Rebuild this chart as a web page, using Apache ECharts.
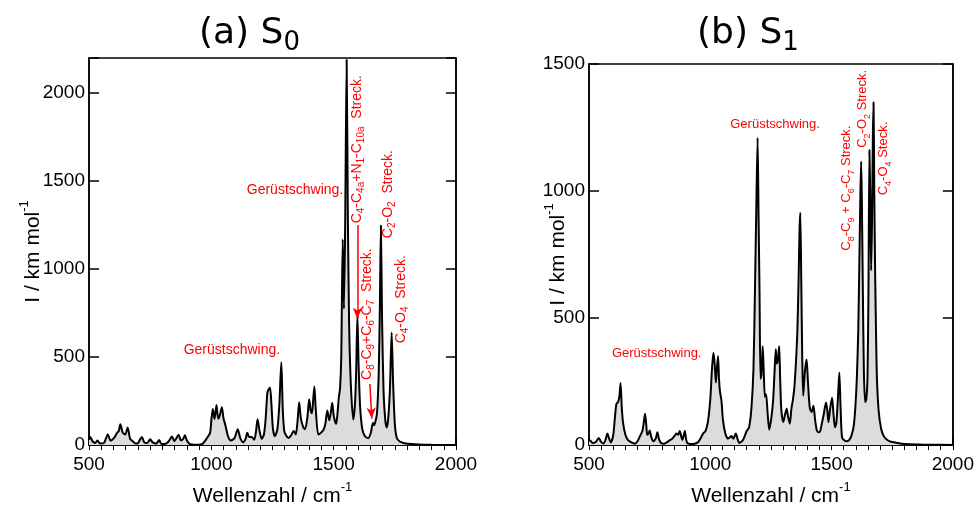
<!DOCTYPE html>
<html><head><meta charset="utf-8">
<script src="https://cdn.jsdelivr.net/npm/echarts@6/dist/echarts.min.js"></script>
<style>html,body{margin:0;padding:0;background:#fff}#c{width:977px;height:512px}</style>
</head><body><div id="c"></div>
<script>
// ---- data (wavenumber cm^-1, intensity km/mol) ----
const xTicks = [500, 1000, 1500, 2000];
const yTicksS0 = [0, 500, 1000, 1500, 2000];
const yTicksS1 = [0, 500, 1000, 1500];
const titles = ['(a) S', '(b) S'];
const titleSubs = ['0', '1'];

const spectrumS0 = [
[500,30],[505,45],[515,20],[525,12],[535,25],[545,8],[560,10],[570,40],[577,61],[588,25],[605,45],[615,70],[622,80],[628,118],[638,70],[648,60],[658,100],[668,35],[680,20],[690,8],[700,10],[708,30],[716,45],[726,15],[738,12],[750,32],[760,15],[775,8],[787,28],[796,5],[810,5],[825,20],[839,48],[849,22],[858,40],[866,58],[876,25],[885,35],[892,55],[900,25],[912,5],[930,2],[950,2],[965,8],[978,30],[985,45],[995,70],[1000,140],[1006,205],[1013,148],[1021,228],[1028,150],[1035,170],[1043,215],[1050,150],[1058,110],[1068,50],[1080,25],[1095,40],[1108,90],[1118,40],[1130,15],[1140,35],[1147,70],[1155,45],[1165,45],[1175,30],[1182,70],[1189,146],[1197,80],[1206,35],[1215,60],[1222,150],[1229,298],[1234,315],[1240,327],[1246,220],[1252,90],[1260,50],[1270,90],[1278,230],[1286,470],[1292,200],[1298,80],[1305,55],[1315,40],[1324,50],[1337,80],[1345,60],[1352,130],[1359,243],[1366,150],[1376,100],[1383,90],[1392,150],[1400,260],[1406,195],[1411,180],[1416,250],[1421,333],[1427,200],[1437,60],[1448,70],[1458,85],[1466,120],[1474,196],[1482,140],[1488,180],[1494,240],[1501,160],[1510,120],[1515,168],[1521,270],[1526,320],[1531,500],[1537,1170],[1542,775],[1547,1250],[1553,2190],[1558,1300],[1563,700],[1570,350],[1580,145],[1587,230],[1592,420],[1597,735],[1602,450],[1608,220],[1617,90],[1628,50],[1641,39],[1652,70],[1657,110],[1661,125],[1665,112],[1670,130],[1677,180],[1684,400],[1689,800],[1693,1248],[1698,700],[1704,300],[1711,140],[1717,100],[1723,150],[1730,320],[1737,640],[1743,350],[1750,120],[1758,40],[1770,20],[1790,10],[1820,5],[1850,3],[1900,1],[2000,0]
];

const spectrumS1 = [
[500,15],[503,19],[515,8],[528,12],[540,28],[550,12],[560,6],[568,20],[576,45],[583,25],[590,10],[600,40],[607,110],[613,162],[620,170],[625,190],[630,244],[635,150],[640,90],[650,40],[660,20],[675,10],[689,5],[700,15],[710,35],[720,55],[726,90],[731,123],[736,80],[740,40],[745,45],[750,57],[757,30],[765,15],[775,25],[782,50],[788,25],[795,10],[808,5],[820,10],[832,18],[843,25],[852,35],[861,45],[868,40],[874,55],[880,35],[885,20],[890,35],[895,55],[900,25],[905,8],[920,4],[935,5],[950,12],[962,30],[970,45],[980,55],[990,90],[1000,180],[1007,300],[1013,363],[1018,320],[1023,246],[1027,300],[1032,350],[1036,260],[1040,210],[1046,175],[1052,100],[1062,45],[1073,25],[1080,30],[1087,35],[1095,25],[1105,45],[1112,25],[1120,8],[1135,20],[1150,55],[1160,70],[1170,150],[1178,300],[1184,600],[1190,950],[1195,1209],[1199,900],[1203,600],[1207,260],[1211,280],[1216,389],[1220,300],[1225,190],[1230,200],[1236,130],[1243,60],[1252,110],[1259,175],[1265,290],[1270,377],[1274,320],[1278,330],[1284,389],[1288,260],[1292,150],[1296,110],[1301,91],[1308,120],[1315,143],[1321,110],[1328,84],[1334,140],[1340,175],[1346,220],[1353,324],[1359,450],[1364,650],[1368,850],[1371,914],[1375,650],[1379,350],[1383,194],[1390,290],[1397,337],[1402,260],[1407,180],[1411,143],[1418,130],[1425,155],[1432,100],[1439,58],[1446,50],[1453,55],[1460,85],[1467,117],[1477,167],[1482,140],[1487,90],[1495,150],[1502,186],[1508,120],[1514,70],[1520,90],[1527,200],[1532,285],[1537,150],[1543,30],[1553,18],[1563,15],[1573,20],[1583,40],[1592,80],[1598,150],[1604,260],[1610,450],[1615,750],[1619,1000],[1622,1116],[1625,950],[1629,600],[1633,300],[1638,169],[1643,180],[1648,260],[1652,600],[1656,1161],[1659,1000],[1663,687],[1667,900],[1670,1200],[1673,1349],[1676,1000],[1680,650],[1684,400],[1687,260],[1694,135],[1704,65],[1715,35],[1730,20],[1745,13],[1763,10],[1790,5],[1820,3],[1860,2],[1900,1],[2000,0]
];

// annotations: [gridIndex, wavenumber, intensity, rich text, rotated]
const annotations = [
  [0, 1084, 538, 'Gerüstschwing.', false],
  [0, 1342, 1450, 'Gerüstschwing.', false],
  [0, 1595, 1260, '{n|C}{s|4}{n|-C}{s|4a}{n|+N}{s|1}{n|-C}{s|10a}{n|  Streck.}', true],
  [0, 1635, 370, '{n|C}{s|8}{n|-C}{s|9}{n|+C}{s|6}{n|-C}{s|7}{n|  Streck.}', true],
  [0, 1721, 1176, '{n|C}{s|2}{n|-O}{s|2}{n|  Streck.}', true],
  [0, 1775, 578, '{n|C}{s|4}{n|-O}{s|4}{n|  Streck.}', true],
  [1, 779, 362, 'Gerüstschwing.', false],
  [1, 1267, 1261, 'Gerüstschwing.', false],
  [1, 1560, 765, '{n|C}{s|8}{n|-C}{s|9}{n| + C}{s|6}{n|-C}{s|7}{n| Streck.}', true],
  [1, 1628, 1170, '{n|C}{s|2}{n|-O}{s|2}{n| Streck.}', true],
  [1, 1713, 983, '{n|C}{s|4}{n|-O}{s|4}{n| Steck.}', true]
];
// arrows in S0 panel: [[x0,y0],[x1,y1]]
const arrowsS0 = [
  [[1597, 1250], [1597, 718]],
  [[1648, 347], [1656, 150]]
];

const chart = echarts.init(document.getElementById('c'), null, {renderer: 'canvas'});
const FONT = 'Liberation Sans, Arial, sans-serif';
const grids = [
  {left: 89, right: 521, top: 58, bottom: 62},
  {left: 589, right: 24, top: 64, bottom: 62}
];
const ymax = [yTicksS0[yTicksS0.length - 1] + 200, yTicksS1[yTicksS1.length - 1]];
const nameRich = {
  n: {fontFamily: FONT, fontSize: 21, color: '#000', lineHeight: 26, verticalAlign: 'bottom'},
  sup: {fontFamily: FONT, fontSize: 13, color: '#000', lineHeight: 26, verticalAlign: 'top'}
};

function xAxisDefs(i) {
  return [{
    type: 'value', gridIndex: i, min: xTicks[0], max: xTicks[xTicks.length - 1], interval: 500,
    name: '{n|Wellenzahl / cm}{sup|-1}', nameLocation: 'middle', nameGap: 36, nameMoveOverlap: false,
    nameTextStyle: {rich: nameRich},
    axisLine: {show: true, lineStyle: {color: '#000', width: 1.5}},
    axisTick: {show: true, inside: true, length: 9, lineStyle: {color: '#000', width: 1.5}},
    axisLabel: {fontFamily: FONT, fontSize: 19, color: '#000', margin: 10, formatter: v => String(v)},
    splitLine: {show: false}
  }, {
    // minor ticks every 50 cm^-1
    type: 'value', gridIndex: i, min: xTicks[0], max: xTicks[xTicks.length - 1], interval: 50,
    axisLine: {show: false},
    axisTick: {show: true, inside: true, length: 5, lineStyle: {color: '#000', width: 1}},
    axisLabel: {show: false}, splitLine: {show: false}
  }];
}
function yAxisDef(i, max, nameGap) {
  return [{
    type: 'value', gridIndex: i, min: 0, max: max, interval: 500,
    name: '{n|I / km mol}{sup|-1}', nameLocation: 'middle', nameGap: nameGap, nameRotate: 90, nameMoveOverlap: false,
    nameTextStyle: {rich: nameRich},
    axisLine: {show: true, lineStyle: {color: '#000', width: 1.5}},
    axisTick: {show: true, inside: true, length: 10, lineStyle: {color: '#000', width: 1.5}},
    axisLabel: {fontFamily: FONT, fontSize: 19, color: '#000', margin: 4,
      formatter: v => (v <= (i === 0 ? 2000 : 1500)) ? String(v) : ''},
    splitLine: {show: false}
  }, {
    type: 'value', gridIndex: i, min: 0, max: max, interval: 500, position: 'right',
    axisLine: {show: true, lineStyle: {color: '#000', width: 1.5}},
    axisTick: {show: true, inside: true, length: 10, lineStyle: {color: '#000', width: 1.5}},
    axisLabel: {show: false}, splitLine: {show: false}
  }];
}

function seriesDef(i, data, yIdx) {
  return {
    type: 'line', xAxisIndex: i * 2, yAxisIndex: yIdx, data: data, showSymbol: false, smooth: 0.25,
    lineStyle: {color: '#000', width: 2}, areaStyle: {color: '#dcdcdc', opacity: 1},
    silent: true, animation: false, clip: true
  };
}

const s0 = seriesDef(0, spectrumS0, 0);
s0.markLine = {
  silent: true, animation: false, symbol: ['none', 'arrow'], symbolSize: [7, 11],
  lineStyle: {color: '#ff0000', width: 1.5, type: 'solid'}, label: {show: false},
  data: arrowsS0.map(a => [{coord: a[0]}, {coord: a[1]}])
};

chart.setOption({
  animation: false,
  backgroundColor: '#fff',
  title: titles.map((t, i) => ({
    text: '{m|' + t + '}{s|' + titleSubs[i] + '}',
    left: i === 0 ? 194 : 692, top: 7,
    textStyle: {fontWeight: 'normal', rich: {
      m: {fontFamily: 'DejaVu Sans', fontWeight: 'normal', fontSize: 36, color: '#000', lineHeight: 44, verticalAlign: 'middle'},
      s: {fontFamily: 'DejaVu Sans', fontWeight: 'normal', fontSize: 26, color: '#000', lineHeight: 44, verticalAlign: 'bottom'}
    }}
  })),
  grid: grids.map(g => Object.assign({show: true, borderColor: '#000', borderWidth: 1.5, backgroundColor: 'transparent'}, g)),
  xAxis: [...xAxisDefs(0), ...xAxisDefs(1)],
  yAxis: [...yAxisDef(0, ymax[0], 45), ...yAxisDef(1, ymax[1], 20)],
  series: [s0, seriesDef(1, spectrumS1, 2)]
});

// place text annotations from data coordinates
const graphics = annotations.map(a => {
  const p = chart.convertToPixel({xAxisIndex: a[0] * 2, yAxisIndex: a[0] === 0 ? 0 : 2}, [a[1], a[2]]);
  const rot = a[4];
  const fs = a[0] === 0 ? 14 : 13;
  return {
    type: 'text', x: p[0], y: p[1], rotation: rot ? Math.PI / 2 : 0, silent: true,
    style: {
      text: a[3], fill: '#ff0000', font: fs + 'px ' + FONT,
      align: rot ? 'left' : 'center', verticalAlign: 'middle',
      rich: {
        n: {fontFamily: FONT, fontSize: fs, fill: '#ff0000', lineHeight: 19, verticalAlign: 'middle'},
        s: {fontFamily: FONT, fontSize: fs - 4, fill: '#ff0000', lineHeight: 19, verticalAlign: 'bottom'}
      }
    }
  };
});
chart.setOption({graphic: graphics});
</script></body></html>
